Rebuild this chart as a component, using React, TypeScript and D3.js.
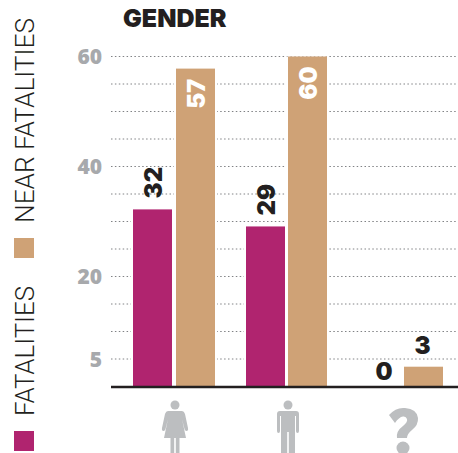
import React from "react";
import * as d3 from "d3";

const categories = ["female", "male", "unknown"];
const seriesNames = ["FATALITIES", "NEAR FATALITIES"];
const fatalities = [32, 29, 0];
const nearFatalities = [57, 60, 3];
// Heights as the bars are actually drawn in the picture (slightly off their printed labels).
const fatalityHeights = [32.2, 29.1, 0];
const nearHeights = [57.8, 60, 3.6];
const tickLabels = [5, 20, 40, 60];
const gridValues = [5, 10, 15, 20, 25, 30, 35, 40, 45, 50, 55, 60];

const FATAL = "#b0246f";
const NEAR = "#cfa276";
const INK = "#231f20";
const GREY = "#a7a9ac";
const ICON = "#bcbec0";

const y = d3.scaleLinear().domain([0, 60]).range([386.5, 56.5]);
const x0 = d3.scaleBand<string>().domain(categories).range([133, 472]);
const x1 = d3.scaleBand<string>().domain(seriesNames).range([0, 82]).paddingInner(0.093).paddingOuter(0);
const nudge = d3.scaleOrdinal<string, number>().domain(categories).range([0, -1, 2]);

const Female = ({ cx }: { cx: number }) => (
  <g fill={ICON} transform={`translate(${cx - 1},0)`}>
    <circle cx={0} cy={405} r={4.5} />
    <path d="M-7,411 H7 Q9,411 10,414 L13,428 Q13.5,431 11.5,431 Q10,431 9.5,429 L7,419 L11,438 H4.5 V453 H0.8 V438 H-0.8 V453 H-4.5 V438 H-11 L-7,419 L-9.5,429 Q-10,431 -11.5,431 Q-13.5,431 -13,428 L-10,414 Q-9,411 -7,411 Z" />
  </g>
);

const Male = ({ cx }: { cx: number }) => (
  <g fill={ICON} transform={`translate(${cx},0)`}>
    <circle cx={0} cy={405} r={4.5} />
    <path d="M-8,411 H8 Q11,411 11,414 V431 Q11,433 9.5,433 Q8,433 8,431 V416 H7 V453 H0.8 V432 H-0.8 V453 H-7 V416 H-8 V431 Q-8,433 -9.5,433 Q-11,433 -11,431 V414 Q-11,411 -8,411 Z" />
  </g>
);

const Question = ({ cx }: { cx: number }) => (
  <g fill={ICON} transform={`translate(${cx},0)`}>
    <path d="M-15,415 Q-8,407 1,408 Q13,409 14,418 Q14.5,425 8,430 Q3,434 3,438 H-7 Q-8,431 -1,426 Q4,422 3,419 Q2,416 -1,416.5 Q-5,417 -9,423 Z" />
    <circle cx={-1} cy={448} r={6.5} />
  </g>
);

const icons = [Female, Male, Question];

export default function App() {
  const labels = [fatalities, nearFatalities];
  const heights = [fatalityHeights, nearHeights];
  const colors = [FATAL, NEAR];
  const valueFont = { fontFamily: "Inter", fontWeight: 900, fontSize: 24 };
  return (
    <svg width={458} height={453} style={{ position: "absolute", left: 0, top: 0, display: "block" }}>
      <rect width={458} height={453} fill="#fff" />
      {gridValues.map((v) => (
        <line key={v} x1={111} x2={458} y1={y(v)} y2={y(v)} stroke="#808285" strokeWidth={1} strokeDasharray="1.5 2.4" />
      ))}
      {tickLabels.map((v) => (
        <text key={v} x={102} y={y(v) + 7.5} textAnchor="end" fontFamily="'Open Sans'" fontWeight={800} fontSize={21} fill={GREY}>
          {v}
        </text>
      ))}
      <text x={123} y={27} fontFamily="Inter" fontWeight={900} fontSize={25} letterSpacing={0} fill={INK}>
        GENDER
      </text>

      {categories.map((c, ci) =>
        seriesNames.map((s, si) => {
          const label = labels[si][ci];
          const bx = (x0(c) as number) + (x1(s) as number) + (si === 1 ? nudge(c) : 0);
          const w = x1.bandwidth();
          const top = y(heights[si][ci]);
          const cx = bx + w / 2;
          const rotated = label >= 10;
          const inside = si === 1 && rotated;
          const labelY = inside ? top + 10 : top - 11;
          return (
            <g key={c + s}>
              {label > 0 && (
                <>
                  <rect x={bx - 2} y={top} width={w + 4} height={y(0) - top} fill="#fff" />
                  <rect x={bx} y={top} width={w} height={y(0) - top} fill={colors[si]} />
                </>
              )}
              {rotated ? (
                <text
                  transform={`translate(${cx + 1},${labelY}) rotate(-90)`}
                  textAnchor={inside ? "end" : "start"}
                  dominantBaseline="central"
                  fill={inside ? "#fff" : INK}
                  {...valueFont}
                >
                  {label}
                </text>
              ) : (
                <text
                  x={si === 0 ? cx + 5.5 : cx - 1}
                  y={si === 0 ? y(0) - 6.5 : top - 13}
                  textAnchor="middle"
                  fill={INK}
                  {...valueFont}
                >
                  {label}
                </text>
              )}
            </g>
          );
        })
      )}

      <line x1={111} x2={458} y1={387} y2={387} stroke={INK} strokeWidth={2.5} />

      {categories.map((c, i) => {
        const Icon = icons[i];
        return <Icon key={c} cx={(x0(c) as number) + (x1(seriesNames[1]) as number) + nudge(c)} />;
      })}

      <rect x={14} y={431} width={20} height={20} fill={FATAL} />
      <rect x={14} y={238} width={20} height={20} fill={NEAR} />
      <text transform="translate(34,416) rotate(-90)" fontFamily="Roboto" fontWeight={300} fontSize={25} textLength={130} lengthAdjust="spacingAndGlyphs" fill={INK}>
        {seriesNames[0]}
      </text>
      <text transform="translate(34,223) rotate(-90)" fontFamily="Roboto" fontWeight={300} fontSize={25} textLength={205} lengthAdjust="spacingAndGlyphs" fill={INK}>
        {seriesNames[1]}
      </text>
    </svg>
  );
}
